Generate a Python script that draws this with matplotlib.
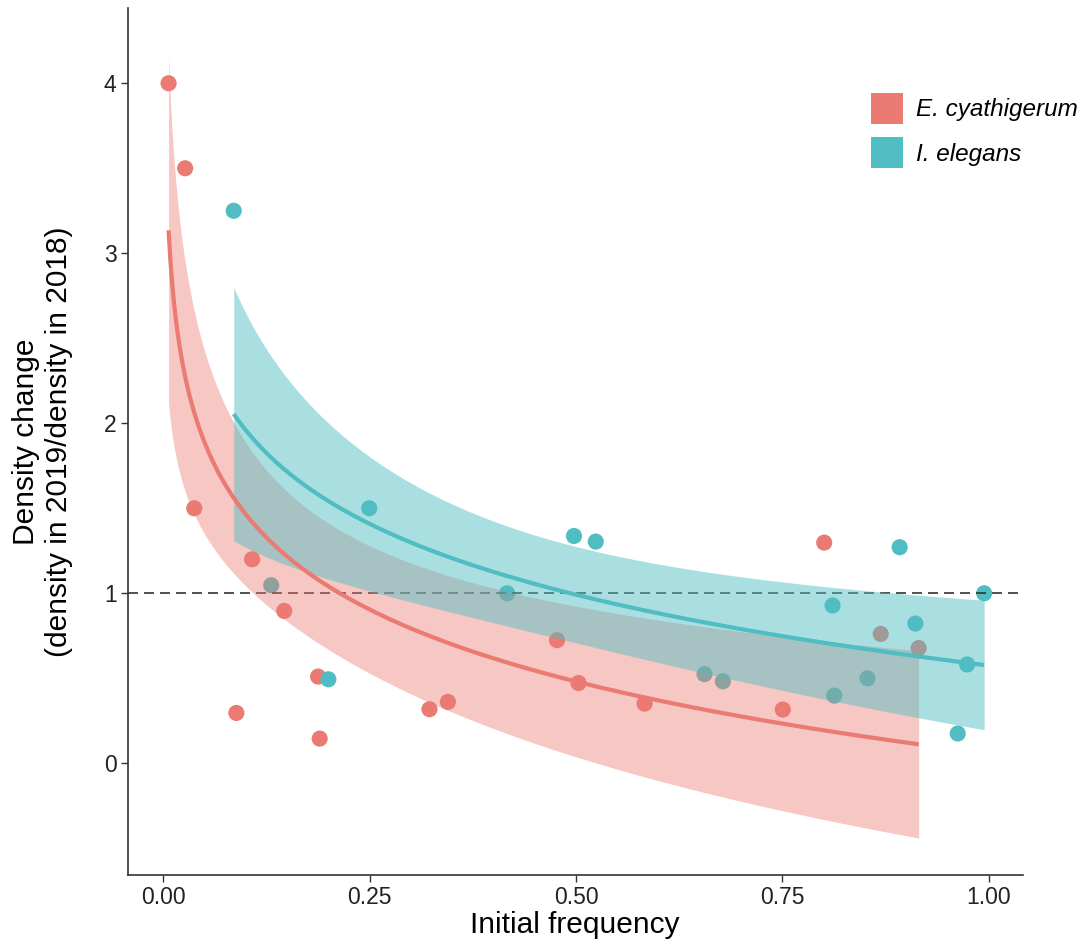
import numpy as np
import matplotlib
matplotlib.use("Agg")
import matplotlib.pyplot as plt
from matplotlib.patches import Patch

# -------------------------
# Data
# -------------------------
ecy_freq = [0.0065, 0.0266, 0.0376, 0.0886, 0.1077, 0.1466, 0.1876, 0.1895, 0.3225,
            0.3448, 0.477, 0.503, 0.583, 0.7504, 0.8006, 0.869, 0.915]
ecy_change = [4.0, 3.5, 1.5, 0.296, 1.2, 0.896, 0.51, 0.145, 0.318,
              0.361, 0.724, 0.472, 0.351, 0.316, 1.298, 0.761, 0.678]

iel_freq = [0.0854, 0.1308, 0.200, 0.2496, 0.4165, 0.4975, 0.5239, 0.6556, 0.6779,
            0.8107, 0.8128, 0.853, 0.892, 0.911, 0.9623, 0.9737, 0.9943]
iel_change = [3.25, 1.047, 0.494, 1.50, 1.0, 1.337, 1.304, 0.524, 0.482,
              0.928, 0.398, 0.50, 1.271, 0.822, 0.175, 0.581, 1.0]

species = ["E. cyathigerum", "I. elegans"]
colors = ["#EA7A72", "#4FBDC1"]
ribbon_alpha = [0.42, 0.48]
T_CRIT = 2.131  # t(0.975, df=15)


def log_fit(x, y, n_grid=400):
    """OLS y ~ log(x) with 95% confidence band (like geom_smooth)."""
    x = np.asarray(x)
    y = np.asarray(y)
    lx = np.log(x)
    b, a = np.polyfit(lx, y, 1)
    resid = y - (a + b * lx)
    s = np.sqrt(np.sum(resid ** 2) / (len(x) - 2))
    sxx = np.sum((lx - lx.mean()) ** 2)
    grid = np.linspace(x.min(), x.max(), n_grid)
    lg = np.log(grid)
    fit = a + b * lg
    se = s * np.sqrt(1 / len(x) + (lg - lx.mean()) ** 2 / sxx)
    return grid, fit, fit - T_CRIT * se, fit + T_CRIT * se


plt.rcParams["font.family"] = ["Liberation Sans", "DejaVu Sans"]

fig = plt.figure(figsize=(10.88, 9.49), dpi=100)
ax = fig.add_axes([127.7 / 1088, 1 - 875.3 / 949, (1022.7 - 127.7) / 1088, (875.3 - 8.3) / 949])

# points
for xs, ys, c in zip([ecy_freq, iel_freq], [ecy_change, iel_change], colors):
    ax.scatter(xs, ys, s=135, color=c, edgecolor="none", zorder=2)

ax.axhline(1, color="#333333", lw=1.2, dashes=(6, 3.6), zorder=3)

# fitted curves with ribbons
fits = [log_fit(ecy_freq, ecy_change), log_fit(iel_freq, iel_change)]
for i, ((g, f, lo, hi), c) in enumerate(zip(fits, colors)):
    ax.fill_between(g, lo, hi, color=c, alpha=ribbon_alpha[i], lw=0, zorder=4 + i)
for (g, f, lo, hi), c in zip(fits, colors):
    ax.plot(g, f, color=c, lw=3, zorder=7, solid_capstyle="butt")

ax.set_xlim(-0.043, 1.041)
ax.set_ylim(-0.659, 4.441)
ax.set_xticks([0, 0.25, 0.5, 0.75, 1.0])
ax.set_xticklabels(["0.00", "0.25", "0.50", "0.75", "1.00"])
ax.set_yticks([0, 1, 2, 3, 4])

for side in ["top", "right"]:
    ax.spines[side].set_visible(False)
for side in ["left", "bottom"]:
    ax.spines[side].set_color("#333333")
    ax.spines[side].set_linewidth(1.2)
ax.tick_params(length=5, width=1, color="#333333", labelsize=16.5, labelcolor="#222222", pad=3)

ax.set_xlabel("Initial frequency", fontsize=21.5, labelpad=1)
ax.set_ylabel("Density change\n(density in 2019/density in 2018)", fontsize=21.5,
              labelpad=22, linespacing=1.25)

handles = [Patch(facecolor=c, edgecolor="none") for c in colors]
ax.legend(handles, species, loc="upper left", bbox_to_anchor=(859 / 1088, 1 - 81 / 949),
          bbox_transform=fig.transFigure, frameon=False, borderpad=0,
          handlelength=1.3, handleheight=1.55, handletextpad=0.56, labelspacing=0.57,
          prop={"size": 17.5, "style": "italic"})

fig.savefig("out.png", dpi=100)
